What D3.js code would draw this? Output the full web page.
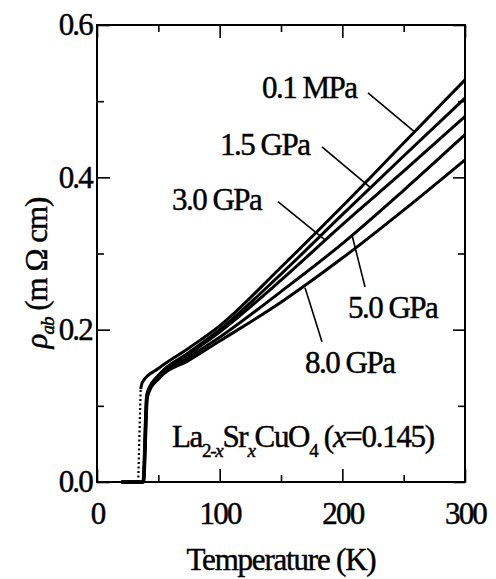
<!DOCTYPE html>
<html>
<head>
<meta charset="utf-8">
<script src="https://cdn.jsdelivr.net/npm/d3@7"></script>
<style>
  html, body { margin: 0; padding: 0; background: #fff; }
  svg { display: block; }
  text { font-family: "Liberation Serif", "Times New Roman", serif; fill: #000; stroke: #000; stroke-width: 0.45px; }
</style>
</head>
<body>
<svg id="chart" width="496" height="579"></svg>
<script>
// ---- data ----
const seriesNames = ["0.1 MPa", "1.5 GPa", "3.0 GPa", "5.0 GPa", "8.0 GPa"];

// temperature (K) and resistivity rho_ab (mOhm cm) for each pressure
const tempP01 = [20, 33.6, 35.6, 37, 50, 75, 100, 150, 200, 250, 300];
const rhoP01  = [0, 0, 0.122, 0.131, 0.149, 0.176, 0.205, 0.282, 0.362, 0.445, 0.528];

const tempP15 = [20, 37.4, 40.4, 42, 50, 75, 100, 150, 200, 250, 300];
const rhoP15  = [0, 0, 0.113, 0.122, 0.140, 0.170, 0.200, 0.273, 0.351, 0.428, 0.504];

const tempP30 = [20, 37.6, 40.6, 42.2, 50, 75, 100, 150, 200, 250, 300];
const rhoP30  = [0, 0, 0.112, 0.121, 0.139, 0.168, 0.197, 0.265, 0.338, 0.408, 0.480];

const tempP50 = [20, 37.8, 40.8, 42.4, 50, 75, 100, 150, 200, 250, 300];
const rhoP50  = [0, 0, 0.111, 0.120, 0.137, 0.164, 0.190, 0.250, 0.313, 0.383, 0.456];

const tempP80 = [20, 38.0, 41.0, 42.6, 50, 75, 100, 150, 200, 250, 300];
const rhoP80  = [0, 0, 0.110, 0.119, 0.135, 0.160, 0.185, 0.236, 0.294, 0.357, 0.423];

const seriesTemps = [tempP01, tempP15, tempP30, tempP50, tempP80];
const seriesRhos  = [rhoP01, rhoP15, rhoP30, rhoP50, rhoP80];
// index where the 0.1 MPa transition (drawn dotted) starts
const dottedFrom = [1, null, null, null, null];

// axes
const xMajorTicks = [0, 100, 200, 300];
const xMinorTicks = [50, 150, 250];
const yMajorTicks = [0, 0.2, 0.4, 0.6];
const yMinorTicks = [0.1, 0.3, 0.5];
const xTickLabels = ["0", "100", "200", "300"];
const yTickLabels = ["0.0", "0.2", "0.4", "0.6"];

// annotation labels (data coords of text start) and leader lines (data coords)
const labelT   = [134.5, 100.3, 61.1, 204.6, 169.6];
const labelRho = [0.504, 0.429, 0.357, 0.215, 0.143];
const leaderT0 = [220.9, 183.4, 147.5, 207.9, 169.6];
const leaderR0 = [0.511, 0.440, 0.368, 0.324, 0.255];
const leaderT1 = [259.2, 222.5, 185.9, 218.5, 183.4];
const leaderR1 = [0.4595, 0.387, 0.318, 0.256, 0.184];

// ---- layout ----
const mLeft = 97, mRight = 465, mTop = 25, mBottom = 482;
const svg = d3.select("#chart");

const x = d3.scaleLinear().domain([0, 300]).range([mLeft, mRight]);
const y = d3.scaleLinear().domain([0, 0.6]).range([mBottom, mTop]);

const FS = 31;

function styleAxis(g) {
  g.select(".domain").remove();
  g.selectAll(".tick line").attr("stroke", "#000").attr("stroke-width", 1.6);
  g.selectAll(".tick text").attr("font-size", FS).attr("font-family", "Liberation Serif")
    .attr("letter-spacing", -1.8).attr("fill", "#000");
}

svg.append("g").attr("transform", `translate(0,${mBottom})`)
  .call(d3.axisBottom(x).tickValues(xMajorTicks).tickSize(-13).tickPadding(20)
        .tickFormat((d, i) => xTickLabels[i]))
  .call(styleAxis);
svg.append("g").attr("transform", `translate(0,${mBottom})`)
  .call(d3.axisBottom(x).tickValues(xMinorTicks).tickSize(-7).tickFormat(""))
  .call(styleAxis);
svg.append("g").attr("transform", `translate(0,${mTop})`)
  .call(d3.axisTop(x).tickValues(xMajorTicks).tickSize(-13).tickFormat(""))
  .call(styleAxis);
svg.append("g").attr("transform", `translate(0,${mTop})`)
  .call(d3.axisTop(x).tickValues(xMinorTicks).tickSize(-7).tickFormat(""))
  .call(styleAxis);

svg.append("g").attr("transform", `translate(${mLeft},0)`)
  .call(d3.axisLeft(y).tickValues(yMajorTicks).tickSize(-13).tickPadding(5)
        .tickFormat((d, i) => yTickLabels[i]))
  .call(styleAxis);
svg.append("g").attr("transform", `translate(${mLeft},0)`)
  .call(d3.axisLeft(y).tickValues(yMinorTicks).tickSize(-7).tickFormat(""))
  .call(styleAxis);
svg.append("g").attr("transform", `translate(${mRight},0)`)
  .call(d3.axisRight(y).tickValues(yMajorTicks).tickSize(-12).tickFormat(""))
  .call(styleAxis);
svg.append("g").attr("transform", `translate(${mRight},0)`)
  .call(d3.axisRight(y).tickValues(yMinorTicks).tickSize(-7).tickFormat(""))
  .call(styleAxis);

// frame
svg.append("rect").attr("x", mLeft).attr("y", mTop)
  .attr("width", mRight - mLeft).attr("height", mBottom - mTop)
  .attr("fill", "none").attr("stroke", "#000").attr("stroke-width", 2);

// curves
const line = d3.line().x(d => x(d[0])).y(d => y(d[1])).curve(d3.curveMonotoneX);
const straight = d3.line().x(d => x(d[0])).y(d => y(d[1]));
const gCurves = svg.append("g");
seriesNames.forEach((name, s) => {
  const pts = seriesTemps[s].map((t, i) => [t, seriesRhos[s][i]]);
  const df = dottedFrom[s];
  if (df === null) {
    gCurves.append("path").attr("d", line(pts)).attr("fill", "none")
      .attr("stroke", "#000").attr("stroke-width", 3).attr("stroke-linejoin", "round");
  } else {
    gCurves.append("path").attr("d", straight(pts.slice(0, df + 1))).attr("fill", "none")
      .attr("stroke", "#000").attr("stroke-width", 3);
    gCurves.append("path").attr("d", straight(pts.slice(df, df + 2)))
      .attr("fill", "none").attr("stroke", "#000").attr("stroke-width", 2.2)
      .attr("stroke-dasharray", "2,2.5");
    gCurves.append("path").attr("d", line(pts.slice(df + 1))).attr("fill", "none")
      .attr("stroke", "#000").attr("stroke-width", 3).attr("stroke-linejoin", "round");
  }
});

// leaders and labels
const gAnn = svg.append("g");
seriesNames.forEach((name, s) => {
  gAnn.append("line")
    .attr("x1", x(leaderT0[s])).attr("y1", y(leaderR0[s]))
    .attr("x2", x(leaderT1[s])).attr("y2", y(leaderR1[s]))
    .attr("stroke", "#000").attr("stroke-width", 1.6);
  gAnn.append("text").attr("x", x(labelT[s])).attr("y", y(labelRho[s]))
    .attr("font-size", FS).attr("letter-spacing", -1.5).text(name);
});

// compound label
const formula = svg.append("text").attr("x", x(61.1)).attr("y", y(0.046))
  .attr("font-size", FS).attr("letter-spacing", -1.3);
formula.append("tspan").text("La");
formula.append("tspan").attr("font-size", 19).attr("dy", 10).text("2-");
formula.append("tspan").attr("font-size", 19).attr("font-style", "italic").text("x");
formula.append("tspan").attr("dy", -10).text("Sr");
formula.append("tspan").attr("font-size", 19).attr("font-style", "italic").attr("dy", 10).text("x");
formula.append("tspan").attr("dy", -10).text("CuO");
formula.append("tspan").attr("font-size", 19).attr("dy", 10).text("4");
formula.append("tspan").attr("dy", -10).text(" (");
formula.append("tspan").attr("font-style", "italic").text("x");
formula.append("tspan").text("=0.145)");

// axis titles
svg.append("text").attr("x", (mLeft + mRight) / 2).attr("y", 570)
  .attr("text-anchor", "middle").attr("font-size", FS).attr("letter-spacing", -1.2)
  .text("Temperature (K)");

const yTitle = svg.append("text")
  .attr("transform", `translate(47,273) rotate(-90)`)
  .attr("text-anchor", "middle").attr("font-size", FS).attr("letter-spacing", -1);
yTitle.append("tspan").attr("font-style", "italic").text("ρ");
yTitle.append("tspan").attr("font-style", "italic").attr("font-size", 19).attr("dy", 7).text("ab");
yTitle.append("tspan").attr("dy", -7).text(" (m Ω cm)");
</script>
</body>
</html>
